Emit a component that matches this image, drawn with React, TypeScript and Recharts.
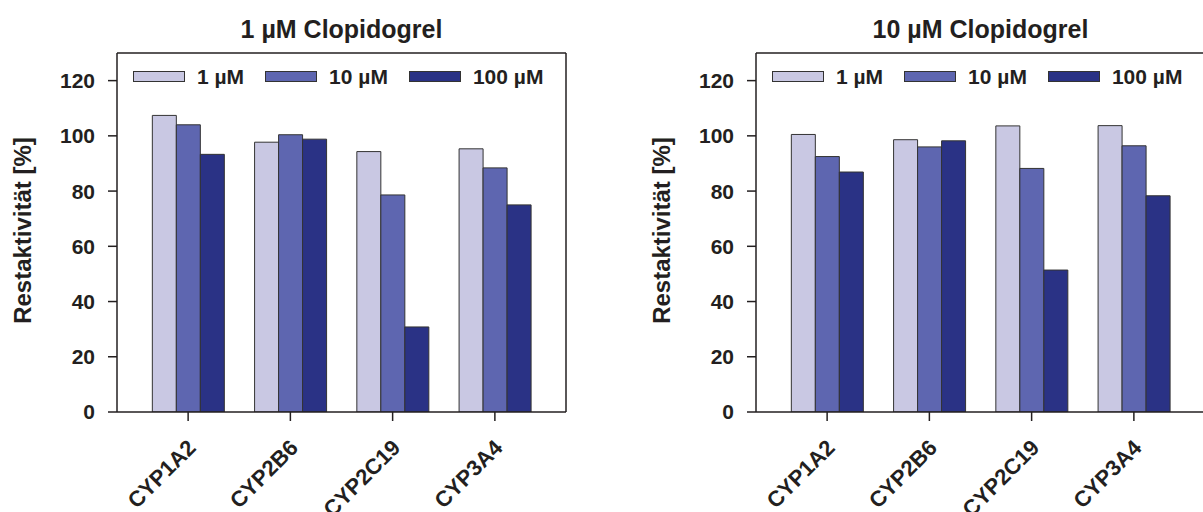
import React from "react";
import { BarChart, Bar, XAxis, YAxis, Legend } from "recharts";

// Restaktivität der CYP-Isoenzyme
const CATEGORIES = ["CYP1A2", "CYP2B6", "CYP2C19", "CYP3A4"];
const SERIES = ["1 µM", "10 µM", "100 µM"];
const Y_TICKS = [0, 20, 40, 60, 80, 100, 120];

// Panel 1: 1 µM Clopidogrel
const P1_1UM = [107.4, 97.7, 94.3, 95.3];
const P1_10UM = [104.0, 100.4, 78.6, 88.4];
const P1_100UM = [93.3, 98.8, 30.8, 75.0];

// Panel 2: 10 µM Clopidogrel
const P2_1UM = [100.5, 98.6, 103.6, 103.7];
const P2_10UM = [92.5, 96.0, 88.2, 96.4];
const P2_100UM = [86.9, 98.2, 51.4, 78.3];

const COLORS = ["#c9c8e3", "#5e66b0", "#2a3285"];
const INK = "#231f20";
const FONT = '"Liberation Sans", Arial, Helvetica, sans-serif';

const buildRows = (a: number[], b: number[], c: number[]) =>
  CATEGORIES.map((name, i) => ({ name, s0: a[i], s1: b[i], s2: c[i] }));

const CategoryTick = (props: any) => {
  const { x, y, payload } = props;
  const tx = x - 2;
  return (
    <text
      x={tx}
      y={y}
      transform={`rotate(-45, ${tx}, ${y})`}
      textAnchor="end"
      dy="0.71em"
      fill={INK}
      fontSize={22}
      fontWeight="bold"
      fontFamily={FONT}
    >
      {payload.value}
    </text>
  );
};

const LegendContent = () => (
  <div style={{ display: "flex", alignItems: "center", fontFamily: FONT }}>
    {SERIES.map((s, i) => (
      <div key={s} style={{ display: "flex", alignItems: "center", marginRight: 21 }}>
        <div
          style={{
            width: 50,
            height: 9,
            background: COLORS[i],
            border: "1px solid #333",
            marginRight: 12,
          }}
        />
        <span style={{ fontSize: 21, fontWeight: "bold", color: INK, lineHeight: "21px" }}>
          {s}
        </span>
      </div>
    ))}
  </div>
);

const YLabel = (props: any) => {
  const { viewBox } = props;
  const cx = viewBox.x + 31;
  const cy = viewBox.y + viewBox.height / 2 - 2;
  return (
    <text
      x={cx}
      y={cy}
      transform={`rotate(-90, ${cx}, ${cy})`}
      textAnchor="middle"
      fill={INK}
      fontSize={24}
      fontWeight="bold"
      fontFamily={FONT}
    >
      Restaktivität [%]
    </text>
  );
};

interface PanelProps {
  title: string;
  rows: { name: string; s0: number; s1: number; s2: number }[];
}

function Panel({ title, rows }: PanelProps) {
  return (
    <BarChart
      width={639}
      height={512}
      data={rows}
      margin={{ top: 52, right: 72, bottom: 0, left: 0 }}
      barCategoryGap="15%"
      barGap={0}
      style={{ fontFamily: FONT }}
    >
      <XAxis
        dataKey="name"
        height={100}
        padding={{ left: 20, right: 20 }}
        tickSize={9}
        tickMargin={17}
        tick={<CategoryTick />}
        axisLine={{ stroke: INK, strokeWidth: 1.5 }}
        tickLine={{ stroke: INK, strokeWidth: 1.5 }}
        interval={0}
      />
      <XAxis
        xAxisId="top"
        orientation="top"
        dataKey="name"
        height={1}
        tick={false}
        tickLine={false}
        axisLine={{ stroke: INK, strokeWidth: 1.5 }}
        label={{
          value: title,
          position: "top",
          offset: 14,
          fill: INK,
          fontSize: 25,
          fontWeight: "bold",
          fontFamily: FONT,
        }}
      />
      <YAxis
        width={117}
        domain={[0, 130]}
        ticks={Y_TICKS}
        allowDataOverflow
        tickSize={9}
        tickMargin={13}
        tick={{ fill: INK, fontSize: 21, fontWeight: "bold", fontFamily: FONT }}
        axisLine={{ stroke: INK, strokeWidth: 1.5 }}
        tickLine={{ stroke: INK, strokeWidth: 1.5 }}
        label={<YLabel />}
      />
      <YAxis
        yAxisId="right"
        orientation="right"
        width={1}
        domain={[0, 130]}
        tick={false}
        tickLine={false}
        axisLine={{ stroke: INK, strokeWidth: 1.5 }}
      />
      <Legend
        layout="horizontal"
        verticalAlign="middle"
        align="center"
        content={<LegendContent />}
        wrapperStyle={{ top: 66, left: 133, width: "auto" }}
      />
      {SERIES.map((s, i) => (
        <Bar
          key={s}
          dataKey={`s${i}`}
          name={s}
          fill={COLORS[i]}
          stroke="#333"
          strokeWidth={1}
          isAnimationActive={false}
        />
      ))}
    </BarChart>
  );
}

export default function App() {
  return (
    <div
      style={{
        position: "absolute",
        left: 0,
        top: 0,
        width: 1203,
        height: 512,
        overflow: "hidden",
        background: "#fff",
      }}
    >
      <div style={{ position: "absolute", left: 0, top: 0 }}>
        <Panel title="1 µM Clopidogrel" rows={buildRows(P1_1UM, P1_10UM, P1_100UM)} />
      </div>
      <div style={{ position: "absolute", left: 639, top: 0 }}>
        <Panel title="10 µM Clopidogrel" rows={buildRows(P2_1UM, P2_10UM, P2_100UM)} />
      </div>
    </div>
  );
}
